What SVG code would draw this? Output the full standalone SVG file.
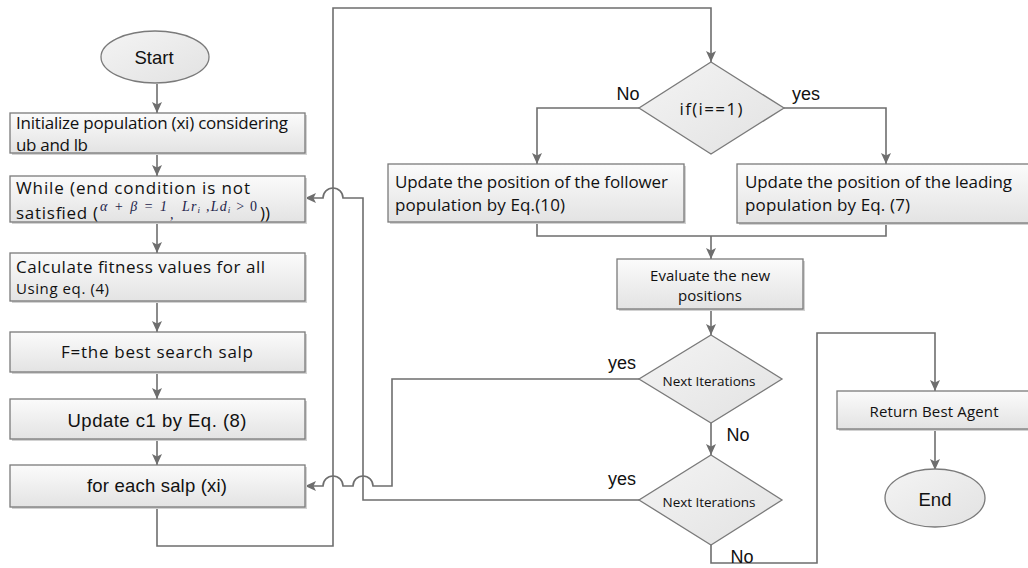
<svg xmlns="http://www.w3.org/2000/svg" width="1028" height="568" viewBox="0 0 1028 568">
  <defs>
    <linearGradient id="fillGrad" x1="0" y1="0" x2="0" y2="1">
      <stop offset="0" stop-color="#fbfbfb"/>
      <stop offset="1" stop-color="#e3e3e3"/>
    </linearGradient>
    <linearGradient id="diaGrad" x1="0" y1="0" x2="1" y2="1">
      <stop offset="0" stop-color="#f4f4f4"/>
      <stop offset="1" stop-color="#e2e2e2"/>
    </linearGradient>
    <marker id="arrow" markerUnits="userSpaceOnUse" markerWidth="12" markerHeight="12" refX="11" refY="5" orient="auto">
      <path d="M0,0 L11,5 L0,10 L2.5,5 z" fill="#6e6e6e"/>
    </marker>
    <style>
      .box { fill: url(#fillGrad); stroke: #7a7a7a; stroke-width: 1.3; }
      .shadow { fill: #d2d2d2; }
      .dia { fill: url(#diaGrad); stroke: #7a7a7a; stroke-width: 1.3; }
      .conn { fill: none; stroke: #6e6e6e; stroke-width: 1.6; }
      .arr { marker-end: url(#arrow); }
      .t { font-family: "Open Sans", "Noto Sans", Lato, sans-serif; font-size: 17px; fill: #111; }
      .ts { font-family: "Open Sans", "Noto Sans", Lato, sans-serif; font-size: 15px; fill: #111; }
      .tn { font-family: "Open Sans", "Noto Sans", Lato, sans-serif; font-size: 13.5px; fill: #111; }
      .a { font-family: "Liberation Sans", Arial, sans-serif; font-size: 18.5px; fill: #111; }
      .lbl { font-family: "Liberation Sans", Arial, sans-serif; font-size: 18px; fill: #111; }
      .eq { font-family: "Liberation Serif", "Times New Roman", serif; font-style: italic; font-size: 14px; fill: #23234a; }
      .mid { text-anchor: middle; }
    </style>
  </defs>

  <rect width="1028" height="568" fill="#ffffff"/>

  <!-- connectors -->
  <g id="connectors">
    <path class="conn arr" d="M157,84 V113"/>
    <path class="conn arr" d="M157,153 V176"/>
    <path class="conn arr" d="M157,222 V253"/>
    <path class="conn arr" d="M157,301 V332"/>
    <path class="conn arr" d="M157,372 V399"/>
    <path class="conn arr" d="M157,439 V465"/>
    <!-- loop body entry -->
    <path class="conn arr" d="M157,507 V546 H333 V8 H711 V62"/>
    <!-- branch on i -->
    <path class="conn arr" d="M639,108 H537 V164"/>
    <path class="conn arr" d="M784,108 H886 V164"/>
    <path class="conn" d="M537,222 V236 H886 V223"/>
    <path class="conn arr" d="M711,236 V259"/>
    <path class="conn arr" d="M711,309 V335"/>
    <path class="conn arr" d="M711,423 V455"/>
    <!-- yes: next salp -->
    <path class="conn arr" d="M639,379 H392 V486 H373 A10,10 0 0 0 353,486 H343 A10,10 0 0 0 323,486 H305"/>
    <!-- yes: next iteration -->
    <path class="conn arr" d="M639,500 H363 V198 H343 A10,10 0 0 0 323,198 H305"/>
    <!-- no: finish -->
    <path class="conn arr" d="M711,545 V563 H817 V333 H935 V391"/>
    <path class="conn arr" d="M935,429 V470"/>
  </g>

  <g id="start">
    <ellipse cx="155" cy="57" rx="54" ry="26" class="dia"/>
    <text x="154" y="64" class="a mid" font-size="20.5">Start</text>
  </g>

  <g id="init">
    <rect x="12" y="115" width="295" height="40" class="shadow"/>
    <rect x="10" y="113" width="295" height="40" class="box"/>
    <text x="16" y="129" class="t" textLength="272">Initialize population (xi) considering</text>
    <text x="16" y="151" class="t" textLength="72">ub and lb</text>
  </g>

  <g id="while">
    <rect x="12" y="178" width="295" height="46" class="shadow"/>
    <rect x="10" y="176" width="295" height="46" class="box"/>
    <text x="16" y="194" class="t" textLength="234">While (end condition is not</text>
    <text x="16" y="219" class="t" textLength="82">satisfied (</text>
    <text x="100" y="211" class="eq" textLength="67">α + β = 1</text>
    <text x="170" y="219" class="eq" font-size="8">,</text>
    <text x="182" y="211" class="eq" textLength="75">Lr<tspan font-size="9" dy="2">i</tspan><tspan dy="-2"> ,Ld</tspan><tspan font-size="9" dy="2">i</tspan><tspan dy="-2" font-style="normal"> &gt; 0</tspan></text>
    <text x="260" y="219" class="t">))</text>
  </g>

  <g id="fitness">
    <rect x="12" y="255" width="295" height="48" class="shadow"/>
    <rect x="10" y="253" width="295" height="48" class="box"/>
    <text x="16" y="273" class="t" textLength="249">Calculate fitness values for all</text>
    <text x="16" y="294" class="ts" font-size="14.5" textLength="93">Using eq. (4)</text>
  </g>

  <g id="best">
    <rect x="12" y="334" width="295" height="40" class="shadow"/>
    <rect x="10" y="332" width="295" height="40" class="box"/>
    <text x="157" y="358" class="t mid" font-size="19" textLength="192">F=the best search salp</text>
  </g>

  <g id="update-c1">
    <rect x="12" y="401" width="295" height="40" class="shadow"/>
    <rect x="10" y="399" width="295" height="40" class="box"/>
    <text x="157" y="427" class="a mid" font-size="19" textLength="179">Update c1 by Eq. (8)</text>
  </g>

  <g id="for-each">
    <rect x="12" y="467" width="295" height="42" class="shadow"/>
    <rect x="10" y="465" width="295" height="42" class="box"/>
    <text x="157" y="492" class="a mid" textLength="140">for each salp (xi)</text>
  </g>

  <g id="if-i">
    <polygon points="711,62 784,108 711,154 639,108" class="dia"/>
    <text x="711" y="115" class="t mid" textLength="63">if(i==1)</text>
    <text x="628" y="100" class="lbl mid">No</text>
    <text x="806" y="100" class="lbl mid">yes</text>
  </g>

  <g id="follower">
    <rect x="390" y="166" width="296" height="58" class="shadow"/>
    <rect x="388" y="164" width="296" height="58" class="box"/>
    <text x="395" y="188" class="t" textLength="273">Update the position of the follower</text>
    <text x="395" y="211" class="t" textLength="170">population by Eq.(10)</text>
  </g>

  <g id="leading">
    <rect x="739" y="166" width="295" height="59" class="shadow"/>
    <rect x="737" y="164" width="295" height="59" class="box"/>
    <text x="745" y="188" class="t" textLength="267">Update the position of the leading</text>
    <text x="745" y="211" class="t" textLength="165">population by Eq. (7)</text>
  </g>

  <g id="evaluate">
    <rect x="619" y="261" width="186" height="50" class="shadow"/>
    <rect x="617" y="259" width="186" height="50" class="box"/>
    <text x="710" y="281" class="ts mid" textLength="120">Evaluate the new</text>
    <text x="710" y="301" class="ts mid" textLength="64">positions</text>
  </g>

  <g id="next-salp">
    <polygon points="711,335 782,379 711,423 639,379" class="dia"/>
    <text x="709" y="386" class="tn mid" textLength="93">Next Iterations</text>
    <text x="636" y="369" class="lbl" text-anchor="end">yes</text>
    <text x="738" y="441" class="lbl mid">No</text>
  </g>

  <g id="next-iter">
    <polygon points="711,455 782,500 711,545 639,500" class="dia"/>
    <text x="709" y="507" class="tn mid" textLength="93">Next Iterations</text>
    <text x="636" y="485" class="lbl" text-anchor="end">yes</text>
    <text x="742" y="563" class="lbl mid">No</text>
  </g>

  <g id="return-best">
    <rect x="839" y="393" width="194" height="38" class="shadow"/>
    <rect x="837" y="391" width="194" height="38" class="box"/>
    <text x="934" y="417" class="ts mid" textLength="129">Return Best Agent</text>
  </g>

  <g id="end">
    <ellipse cx="935" cy="498" rx="50" ry="29" class="dia"/>
    <text x="935" y="506" class="a mid" font-size="20.5">End</text>
  </g>
</svg>
